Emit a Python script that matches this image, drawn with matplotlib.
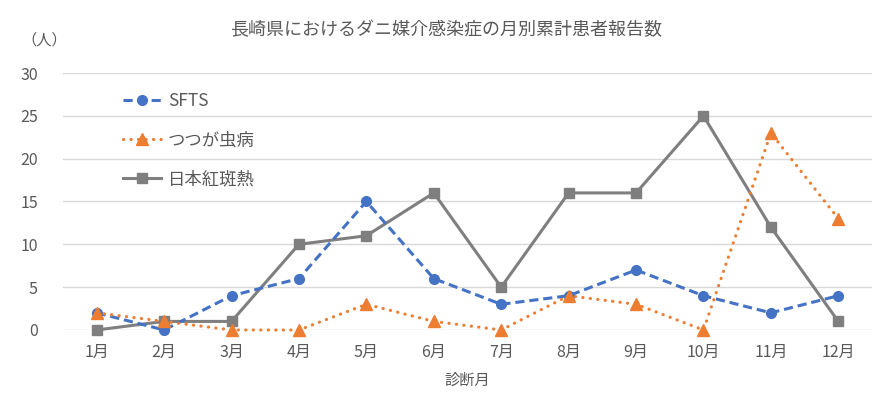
import numpy as np
import matplotlib
matplotlib.use('Agg')
import matplotlib.pyplot as plt

plt.rcParams['font.family'] = ['Noto Sans CJK JP', 'DejaVu Sans']

months = ['1月', '2月', '3月', '4月', '5月', '6月', '7月', '8月', '9月', '10月', '11月', '12月']
sfts = [2, 0, 4, 6, 15, 6, 3, 4, 7, 4, 2, 4]
tsutsuga = [2, 1, 0, 0, 3, 1, 0, 4, 3, 0, 23, 13]
nihon = [0, 1, 1, 10, 11, 16, 5, 16, 16, 25, 12, 1]

fig = plt.figure(figsize=(8.93, 3.99), dpi=100)
ax = fig.add_axes([0.0705, 0.173, 0.906, 0.644])

x = np.arange(len(months))
ax.plot(x, sfts, color='#4472C4', linestyle=(0, (3, 1.6)), linewidth=2.2,
        marker='o', markersize=7, label='SFTS', zorder=3, clip_on=False)
ax.plot(x, tsutsuga, color='#ED7D31', linestyle=(0, (0.05, 2.3)), linewidth=2.3,
        dash_capstyle='round', marker='^', markersize=9, label='つつが虫病', zorder=3,
        clip_on=False)
ax.plot(x, nihon, color='#7F7F7F', linestyle='-', linewidth=2.2,
        marker='s', markersize=7, label='日本紅斑熱', zorder=2, clip_on=False)

ax.set_xlim(-0.5, len(months) - 0.5)
ax.set_ylim(0, 30)
ax.set_yticks(np.arange(0, 31, 5))
ax.set_xticks(x)
ax.set_xticklabels(months)
ax.grid(axis='y', color='#D9D9D9', linewidth=1)
ax.set_axisbelow(True)
for s in ax.spines.values():
    s.set_visible(False)
ax.tick_params(length=0, colors='#595959', labelsize=11.5)
ax.tick_params(axis='x', pad=10)
ax.tick_params(axis='y', pad=18)

ax.set_xlabel('診断月', color='#595959', fontsize=11, labelpad=8)
fig.text(0.5, 0.925, '長崎県におけるダニ媒介感染症の月別累計患者報告数', ha='center', va='center',
         color='#595959', fontsize=13)
fig.text(0.05, 0.9, '（人）', ha='center', va='center', color='#595959', fontsize=11)

leg = ax.legend(loc='upper left', bbox_to_anchor=(0.055, 0.985), frameon=False,
                fontsize=12.5, labelcolor='#595959', handlelength=2.2, handletextpad=0.4,
                labelspacing=1.2)

fig.savefig('out.png', dpi=100)
plt.close()
